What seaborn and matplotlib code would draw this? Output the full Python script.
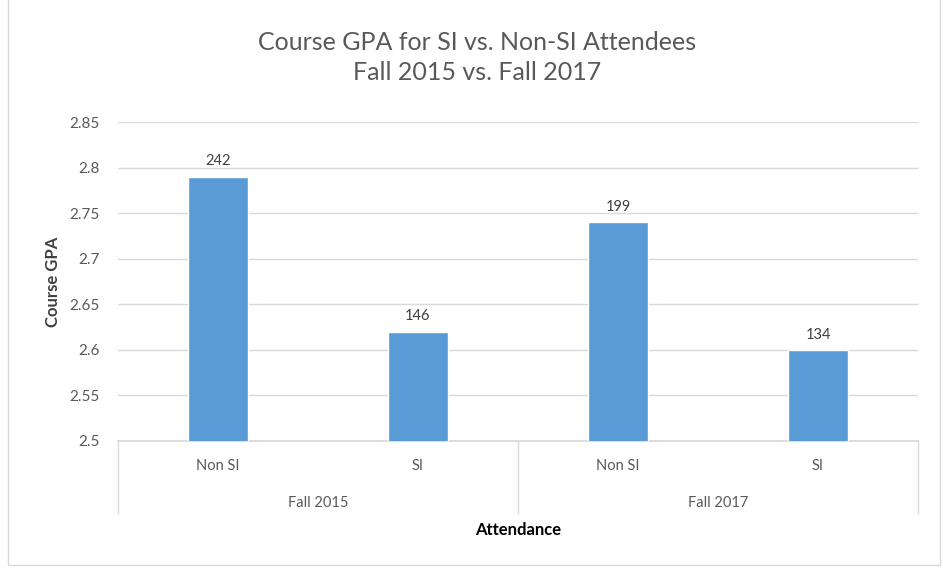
import matplotlib
matplotlib.use("Agg")
import matplotlib.pyplot as plt
import matplotlib.transforms as mtransforms
from matplotlib.patches import Rectangle
import pandas as pd
import seaborn as sns

# data
terms = ["Fall 2015", "Fall 2015", "Fall 2017", "Fall 2017"]
attendance = ["Non SI", "SI", "Non SI", "SI"]
gpa = [2.79, 2.62, 2.74, 2.60]
counts = [242, 146, 199, 134]
y_ticks = [2.5, 2.55, 2.6, 2.65, 2.7, 2.75, 2.8, 2.85]
y_tick_labels = ["2.5", "2.55", "2.6", "2.65", "2.7", "2.75", "2.8", "2.85"]

df = pd.DataFrame({"term": terms, "attendance": attendance, "gpa": gpa})
df["key"] = [f"{t}|{a}" for t, a in zip(terms, attendance)]

sns.set_theme(style="white")
plt.rcParams["font.family"] = ["Lato", "DejaVu Sans"]
text_col = "#595959"
grid_col = "#d9d9d9"

fig = plt.figure(figsize=(9.43, 5.69), dpi=100)
ax = fig.add_axes([118 / 943, 1 - 441 / 569, 800 / 943, 319 / 569])

sns.barplot(data=df, x="key", y="gpa", color="#5b9bd5", width=0.3,
            saturation=1, ax=ax, zorder=3)

ax.set_ylim(2.5, 2.85)
ax.set_xlim(-0.5, 3.5)
ax.set_yticks(y_ticks)
ax.set_yticklabels(y_tick_labels, color=text_col, fontsize=11)
ax.tick_params(axis="y", length=0, pad=13)
ax.set_xticks([])
ax.set_xlabel("")
ax.set_ylabel("Course GPA", fontsize=12, fontweight="bold", color="#404040", labelpad=6)
ax.yaxis.grid(True, color=grid_col, linewidth=1)
ax.set_axisbelow(True)
for side in ["top", "right", "left"]:
    ax.spines[side].set_visible(False)
ax.spines["bottom"].set_color(grid_col)

# data labels
for container in ax.containers:
    ax.bar_label(container, labels=[str(c) for c in counts], padding=6,
                 fontsize=10.5, color="#404040")

# two-level category axis
trans = mtransforms.blended_transform_factory(ax.transData, ax.transAxes)
for i, lab in enumerate(attendance):
    ax.text(i, -25 / 319, lab, transform=trans, ha="center", va="center",
            fontsize=10.5, color=text_col)
group_names = ["Fall 2015", "Fall 2017"]
for g, name in enumerate(group_names):
    ax.text(2 * g + 0.5, -62 / 319, name, transform=trans, ha="center",
            va="center", fontsize=10.5, color=text_col)
for xb in [-0.5, 1.5, 3.5]:
    ax.plot([xb, xb], [0, -72 / 319], transform=trans, color=grid_col,
            linewidth=1, clip_on=False)

fig.text(518 / 943, 1 - 530 / 569, "Attendance", ha="center", va="center",
         fontsize=12, fontweight="bold", color="black")
fig.text(477 / 943, 1 - 43 / 569, "Course GPA for SI vs. Non-SI Attendees",
         ha="center", va="center", fontsize=18, color=text_col)
fig.text(477 / 943, 1 - 73 / 569, "Fall 2015 vs. Fall 2017",
         ha="center", va="center", fontsize=18, color=text_col)

fig.patches.append(Rectangle((8 / 943, 4 / 569), 932 / 943, 570 / 569,
                             transform=fig.transFigure, fill=False,
                             edgecolor=grid_col, linewidth=1))

fig.savefig("out.png", dpi=100)
